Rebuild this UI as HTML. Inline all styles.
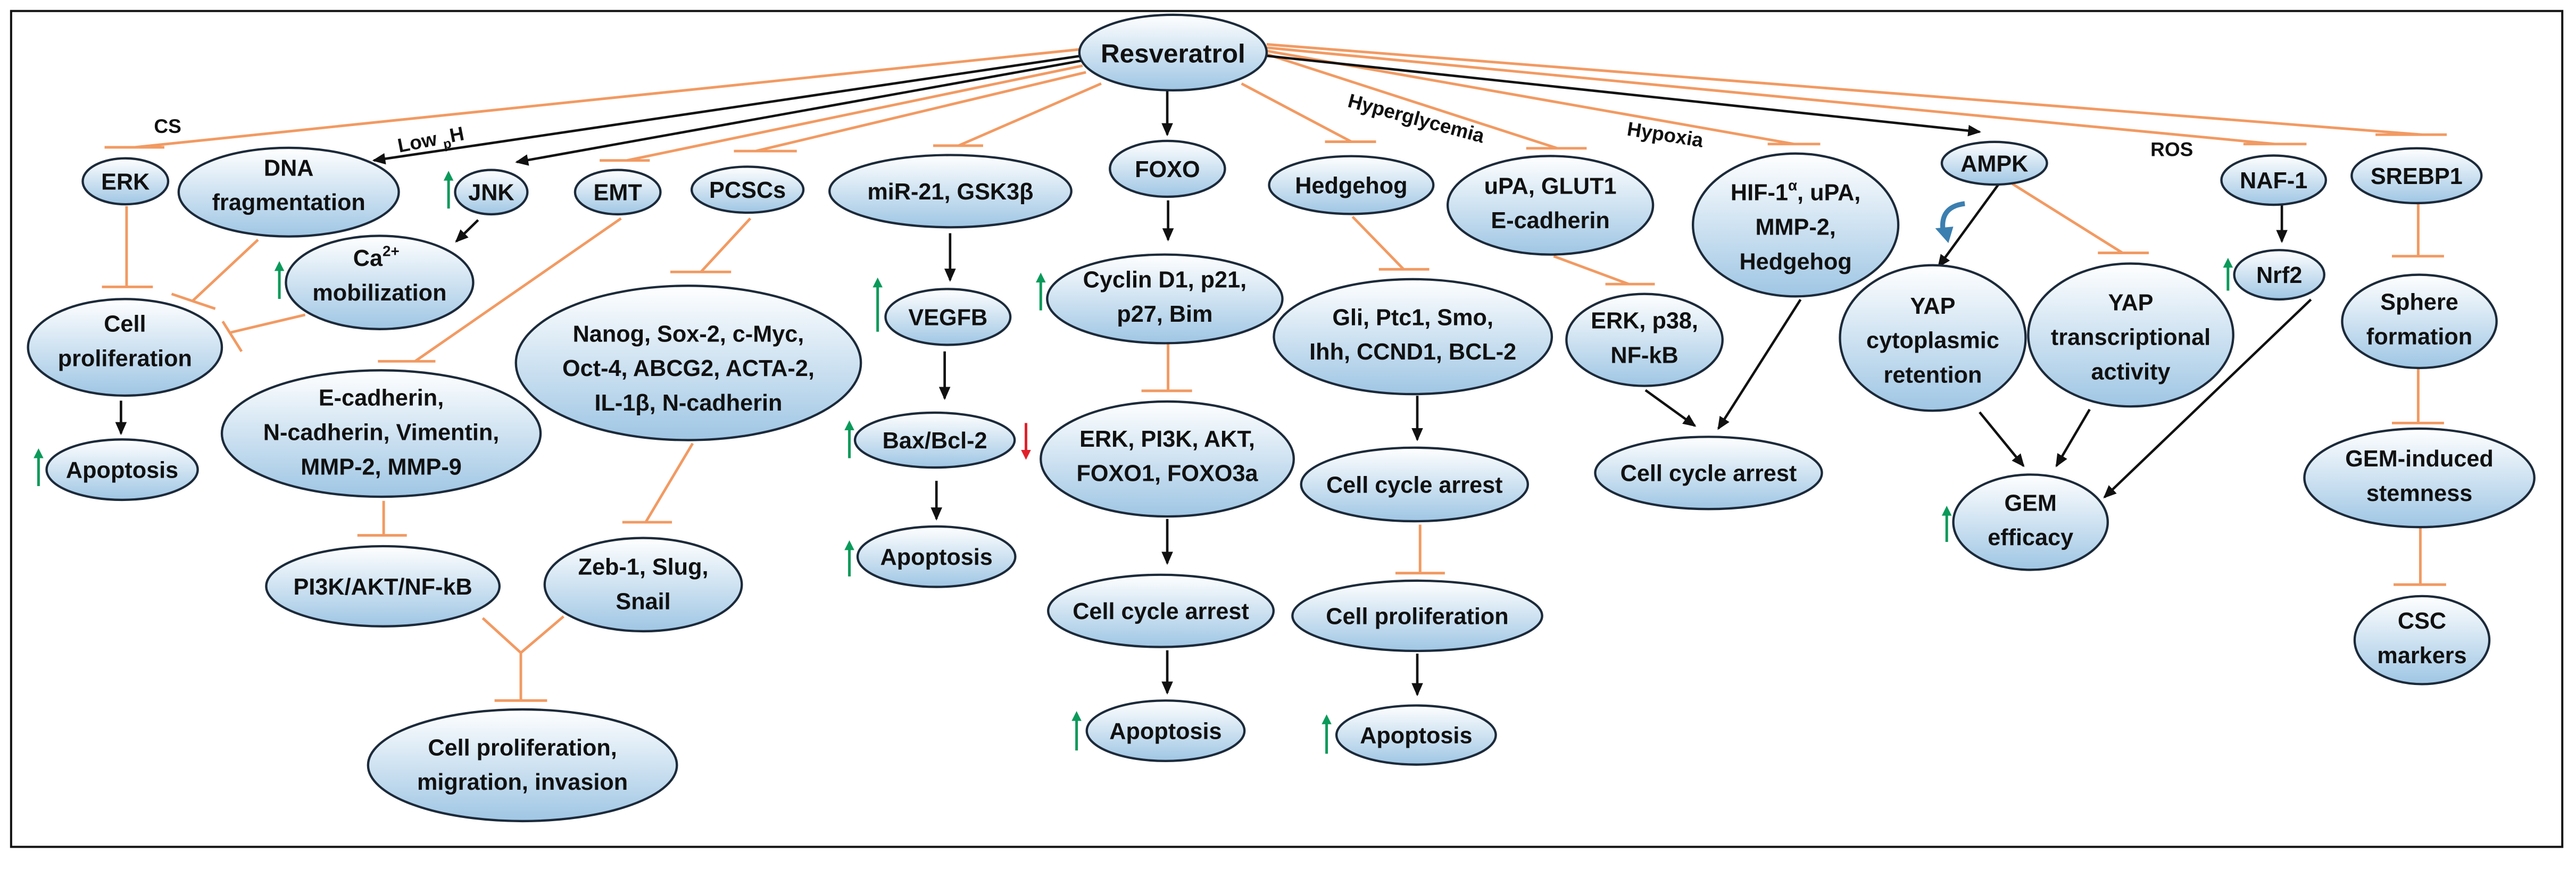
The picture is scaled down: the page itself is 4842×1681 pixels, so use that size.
<!DOCTYPE html>
<html><head><meta charset="utf-8"><style>
html,body{margin:0;padding:0;background:#fff}
svg{display:block}
text{font-family:"Liberation Sans",sans-serif;font-weight:bold;font-size:14px;fill:#111;text-anchor:middle}
.o{stroke:#f29a62;stroke-width:1.6;fill:none}
.k{stroke:#111;stroke-width:1.5;fill:none}
ellipse{fill:url(#g);stroke:#1c2a3a;stroke-width:1.4}
.lab{font-size:12px}
.g{stroke:#0a9a5a;stroke-width:1.6;fill:none}
</style></head><body>
<svg width="4842" height="1681" viewBox="0 0 1568 544.4" xmlns="http://www.w3.org/2000/svg">
<defs>
<linearGradient id="g" x1="0" y1="0" x2="0" y2="1"><stop offset="0" stop-color="#ffffff"/><stop offset="1" stop-color="#9fc6e4"/></linearGradient>
<marker id="a" markerWidth="8" markerHeight="8" refX="7" refY="4" orient="auto" markerUnits="userSpaceOnUse"><path d="M0,0.5 L8,4 L0,7.5z" fill="#111"/></marker>
</defs>
<rect x="6.7" y="6.7" width="1553" height="509" fill="none" stroke="#111" stroke-width="1.3"/>

<!-- edges from Resveratrol -->
<path class="o" d="M658,30 L82,89.7 M63.6,89.7 H100"/>
<path class="k" d="M658,34 L227.5,97.7" marker-end="url(#a)"/>
<path class="k" d="M658,37 L314.5,98.7" marker-end="url(#a)"/>
<path class="o" d="M659,40 L381.5,97.7 M365,97.7 H395.5"/>
<path class="o" d="M661,44 L460,92 M446.7,92 H485"/>
<path class="o" d="M670.3,50.9 L583.4,88.7 M568,88.7 H598.4"/>
<path class="k" d="M710.5,55 V82" marker-end="url(#a)"/>
<path class="o" d="M755.7,50.9 L822.6,86.3 M806.5,86.3 H837.6"/>
<path class="o" d="M771,33 L948,90.3 M929,90.3 H965.8"/>
<path class="o" d="M771,31 L1092,87.7 M1076,87.7 H1108"/>
<path class="k" d="M771,34 L1205,80.3" marker-end="url(#a)"/>
<path class="o" d="M771,29 L1384.7,87.7 M1365.6,87.7 H1404"/>
<path class="o" d="M771,27 L1474.3,82 M1446,82 H1489.4"/>

<!-- left cluster -->
<path class="o" d="M77,125.5 V174.7 M62,174.7 H93"/>
<path class="o" d="M157,146 L117,183.4 M104.4,179 L131,188"/>
<path class="o" d="M185.7,191.7 L140.5,202.4 M135.5,195.7 L147,214"/>
<path class="k" d="M291,134 L277.7,147" marker-end="url(#a)"/>
<path class="k" d="M73.6,244 V264" marker-end="url(#a)"/>
<path class="o" d="M378,133 L252.6,220 M230,220 H265"/>
<path class="o" d="M456.7,133 L426.6,165.6 M408,165.6 H445"/>
<path class="o" d="M233.5,305 V326 M217.5,326 H247.6"/>
<path class="o" d="M421.6,270 L393,318 M378.8,318 H409"/>
<path class="o" d="M293.8,376.4 L317,397.5 L343,375.4 M317,397.5 V426.6 M301,426.6 H333"/>

<!-- middle -->
<path class="k" d="M578.3,142 V170.6" marker-end="url(#a)"/>
<path class="k" d="M575,214 V242.6" marker-end="url(#a)"/>
<path class="k" d="M570,292.8 V316" marker-end="url(#a)"/>
<path class="k" d="M711,122 V146" marker-end="url(#a)"/>
<path class="o" d="M711,207.5 V238 M694.8,238 H725.6"/>
<path class="k" d="M710.5,316 V343" marker-end="url(#a)"/>
<path class="k" d="M710.5,396 V422" marker-end="url(#a)"/>
<path class="o" d="M823.3,132 L854.4,164 M839.3,164 H870"/>
<path class="k" d="M862.7,241 V267.7" marker-end="url(#a)"/>
<path class="o" d="M864.4,319.5 V349 M849.4,349 H879.5"/>
<path class="k" d="M862.7,398 V423" marker-end="url(#a)"/>
<path class="o" d="M945.7,156 L991.5,173 M977.2,173 H1007.3"/>
<path class="k" d="M1001.6,237.6 L1031.7,259.3" marker-end="url(#a)"/>
<path class="k" d="M1096,182.4 L1046,261" marker-end="url(#a)"/>

<!-- right -->
<path class="k" d="M1216.7,112 L1180,162.3" marker-end="url(#a)"/>
<path class="o" d="M1225,112 L1292,154 M1277,154 H1308"/>
<path d="M1196,124 Q1180,126 1183,142" stroke="#3b7fb0" stroke-width="3" fill="none"/>
<path d="M1178,139 L1186,148 L1189,138z" fill="#3b7fb0"/>
<path class="k" d="M1205,251 L1231.7,283.7" marker-end="url(#a)"/>
<path class="k" d="M1272,249.3 L1251.8,283.7" marker-end="url(#a)"/>
<path class="k" d="M1406.7,182.4 L1281,302.8" marker-end="url(#a)"/>
<path class="k" d="M1389,125 V147" marker-end="url(#a)"/>
<path class="o" d="M1472,124 V156 M1456,156 H1487.7"/>
<path class="o" d="M1472,224 V257.6 M1456,257.6 H1487.7"/>
<path class="o" d="M1473.3,321 V356 M1457,356 H1489"/>

<!-- labels -->
<text x="102" y="81" class="lab">CS</text>
<text x="263" y="89" class="lab" transform="rotate(-11 263 89)">Low <tspan font-size="8" dy="3">p</tspan><tspan dy="-3">H</tspan></text>
<text x="861" y="76" class="lab" transform="rotate(15 861 76)">Hyperglycemia</text>
<text x="1013" y="86" class="lab" transform="rotate(9 1013 86)">Hypoxia</text>
<text x="1322" y="95" class="lab">ROS</text>

<!-- nodes -->
<ellipse cx="714" cy="32" rx="57" ry="23"/><text x="714" y="38" style="font-size:16px">Resveratrol</text>
<ellipse cx="76.3" cy="110.4" rx="26" ry="14"/><text x="76.3" y="115.4">ERK</text>
<ellipse cx="175.7" cy="117" rx="67" ry="27"/><text x="175.7" y="107">DNA<tspan x="175.7" dy="21">fragmentation</tspan></text>
<ellipse cx="299" cy="117" rx="22" ry="13.5"/><text x="299" y="122">JNK</text>
<ellipse cx="231" cy="172" rx="57" ry="28.4"/><text x="229" y="162">Ca<tspan font-size="9" dy="-6">2+</tspan><tspan x="231" dy="27">mobilization</tspan></text>
<ellipse cx="376" cy="117" rx="26" ry="13.5"/><text x="376" y="122">EMT</text>
<ellipse cx="455" cy="115.5" rx="34" ry="14"/><text x="455" y="120.5">PCSCs</text>
<ellipse cx="76" cy="211.5" rx="59" ry="29.4"/><text x="76" y="202">Cell<tspan x="76" dy="21">proliferation</tspan></text>
<ellipse cx="74.3" cy="286" rx="46" ry="18.4"/><text x="74.3" y="291">Apoptosis</text>
<ellipse cx="232" cy="264" rx="97" ry="38.5"/><text x="232" y="247">E-cadherin,<tspan x="232" dy="21">N-cadherin, Vimentin,</tspan><tspan x="232" dy="21">MMP-2, MMP-9</tspan></text>
<ellipse cx="419" cy="221" rx="105" ry="47"/><text x="419" y="208">Nanog, Sox-2, c-Myc,<tspan x="419" dy="21">Oct-4, ABCG2, ACTA-2,</tspan><tspan x="419" dy="21">IL-1β, N-cadherin</tspan></text>
<ellipse cx="233" cy="357" rx="71" ry="24.4"/><text x="233" y="362">PI3K/AKT/NF-kB</text>
<ellipse cx="391.5" cy="356" rx="60" ry="28.4"/><text x="391.5" y="350">Zeb-1, Slug,<tspan x="391.5" dy="21">Snail</tspan></text>
<ellipse cx="318" cy="466" rx="94" ry="34"/><text x="318" y="460">Cell proliferation,<tspan x="318" dy="21">migration, invasion</tspan></text>
<ellipse cx="578.5" cy="116.4" rx="73.6" ry="22"/><text x="578.5" y="121.4">miR-21, GSK3β</text>
<ellipse cx="577" cy="193" rx="38" ry="17"/><text x="577" y="198">VEGFB</text>
<ellipse cx="569" cy="268" rx="48.6" ry="16.7"/><text x="569" y="273">Bax/Bcl-2</text>
<ellipse cx="570" cy="339" rx="48" ry="18.4"/><text x="570" y="344">Apoptosis</text>
<ellipse cx="710.6" cy="102.8" rx="35" ry="17"/><text x="710.6" y="107.8">FOXO</text>
<ellipse cx="709" cy="182" rx="71.6" ry="27"/><text x="709" y="175">Cyclin D1, p21,<tspan x="709" dy="21">p27, Bim</tspan></text>
<ellipse cx="710.5" cy="279.5" rx="77" ry="35"/><text x="710.5" y="272">ERK, PI3K, AKT,<tspan x="710.5" dy="21">FOXO1, FOXO3a</tspan></text>
<ellipse cx="706.6" cy="372" rx="68.6" ry="22"/><text x="706.6" y="377">Cell cycle arrest</text>
<ellipse cx="709.5" cy="445" rx="48" ry="18.4"/><text x="709.5" y="450">Apoptosis</text>
<ellipse cx="822.5" cy="112.7" rx="50" ry="17.6"/><text x="822.5" y="117.7">Hedgehog</text>
<ellipse cx="860" cy="205" rx="84.6" ry="35"/><text x="860" y="198">Gli, Ptc1, Smo,<tspan x="860" dy="21">Ihh, CCND1, BCL-2</tspan></text>
<ellipse cx="861" cy="295" rx="69" ry="22.4"/><text x="861" y="300">Cell cycle arrest</text>
<ellipse cx="862.7" cy="375" rx="76" ry="21.4"/><text x="862.7" y="380">Cell proliferation</text>
<ellipse cx="862" cy="447.6" rx="48.5" ry="18"/><text x="862" y="452.6">Apoptosis</text>
<ellipse cx="943.7" cy="125" rx="62.5" ry="30"/><text x="943.7" y="118">uPA, GLUT1<tspan x="943.7" dy="21">E-cadherin</tspan></text>
<ellipse cx="1093" cy="137" rx="62.5" ry="43.5"/><text x="1093" y="122">HIF-1<tspan font-size="9" dy="-6">α</tspan><tspan dy="6">, uPA,</tspan><tspan x="1093" dy="21">MMP-2,</tspan><tspan x="1093" dy="21">Hedgehog</tspan></text>
<ellipse cx="1001" cy="207" rx="47.5" ry="28"/><text x="1001" y="200">ERK, p38,<tspan x="1001" dy="21">NF-kB</tspan></text>
<ellipse cx="1040" cy="288" rx="69" ry="22"/><text x="1040" y="293">Cell cycle arrest</text>
<ellipse cx="1214" cy="99.4" rx="32" ry="13"/><text x="1214" y="104.4">AMPK</text>
<ellipse cx="1176.5" cy="205.8" rx="56.5" ry="44.3"/><text x="1176.5" y="191">YAP<tspan x="1176.5" dy="21">cytoplasmic</tspan><tspan x="1176.5" dy="21">retention</tspan></text>
<ellipse cx="1297" cy="204" rx="62.4" ry="43.5"/><text x="1297" y="189">YAP<tspan x="1297" dy="21">transcriptional</tspan><tspan x="1297" dy="21">activity</tspan></text>
<ellipse cx="1236" cy="318" rx="47" ry="29"/><text x="1236" y="311">GEM<tspan x="1236" dy="21">efficacy</tspan></text>
<ellipse cx="1384" cy="109.7" rx="31.8" ry="15"/><text x="1384" y="114.7">NAF-1</text>
<ellipse cx="1387.4" cy="167.3" rx="27.4" ry="15"/><text x="1387.4" y="172.3">Nrf2</text>
<ellipse cx="1471" cy="107" rx="39.5" ry="16.7"/><text x="1471" y="112">SREBP1</text>
<ellipse cx="1472.7" cy="195.7" rx="47" ry="28.4"/><text x="1472.7" y="188.7">Sphere<tspan x="1472.7" dy="21">formation</tspan></text>
<ellipse cx="1472.7" cy="291" rx="70" ry="30"/><text x="1472.7" y="284">GEM-induced<tspan x="1472.7" dy="21">stemness</tspan></text>
<ellipse cx="1474.3" cy="389.8" rx="41" ry="26.8"/><text x="1474.3" y="382.8">CSC<tspan x="1474.3" dy="21">markers</tspan></text>

<!-- green up arrows -->
<g fill="#0a9a5a">
<path class="g" d="M273,127 V108"/><path d="M270,110 L273,104 L276,110z"/>
<path class="g" d="M170,182 V163"/><path d="M167,165 L170,159 L173,165z"/>
<path class="g" d="M23.4,296 V277"/><path d="M20.4,279 L23.4,273 L26.4,279z"/>
<path class="g" d="M534.2,202 V173"/><path d="M531.2,175 L534.2,169 L537.2,175z"/>
<path class="g" d="M517,279 V260"/><path d="M514,262 L517,256 L520,262z"/>
<path class="g" d="M517,351 V333"/><path d="M514,335 L517,329 L520,335z"/>
<path class="g" d="M633.5,189 V170"/><path d="M630.5,172 L633.5,166 L636.5,172z"/>
<path class="g" d="M655.3,457 V437"/><path d="M652.3,439 L655.3,433 L658.3,439z"/>
<path class="g" d="M807.5,459 V439"/><path d="M804.5,441 L807.5,435 L810.5,441z"/>
<path class="g" d="M1185,330 V312"/><path d="M1182,314 L1185,308 L1188,314z"/>
<path class="g" d="M1356.2,177 V161"/><path d="M1353.2,163 L1356.2,157 L1359.2,163z"/>
</g>
<path d="M624.5,257.6 V276" stroke="#e0202a" stroke-width="1.6"/><path d="M621.5,274 L624.5,280 L627.5,274z" fill="#e0202a"/>
</svg>
</body></html>
